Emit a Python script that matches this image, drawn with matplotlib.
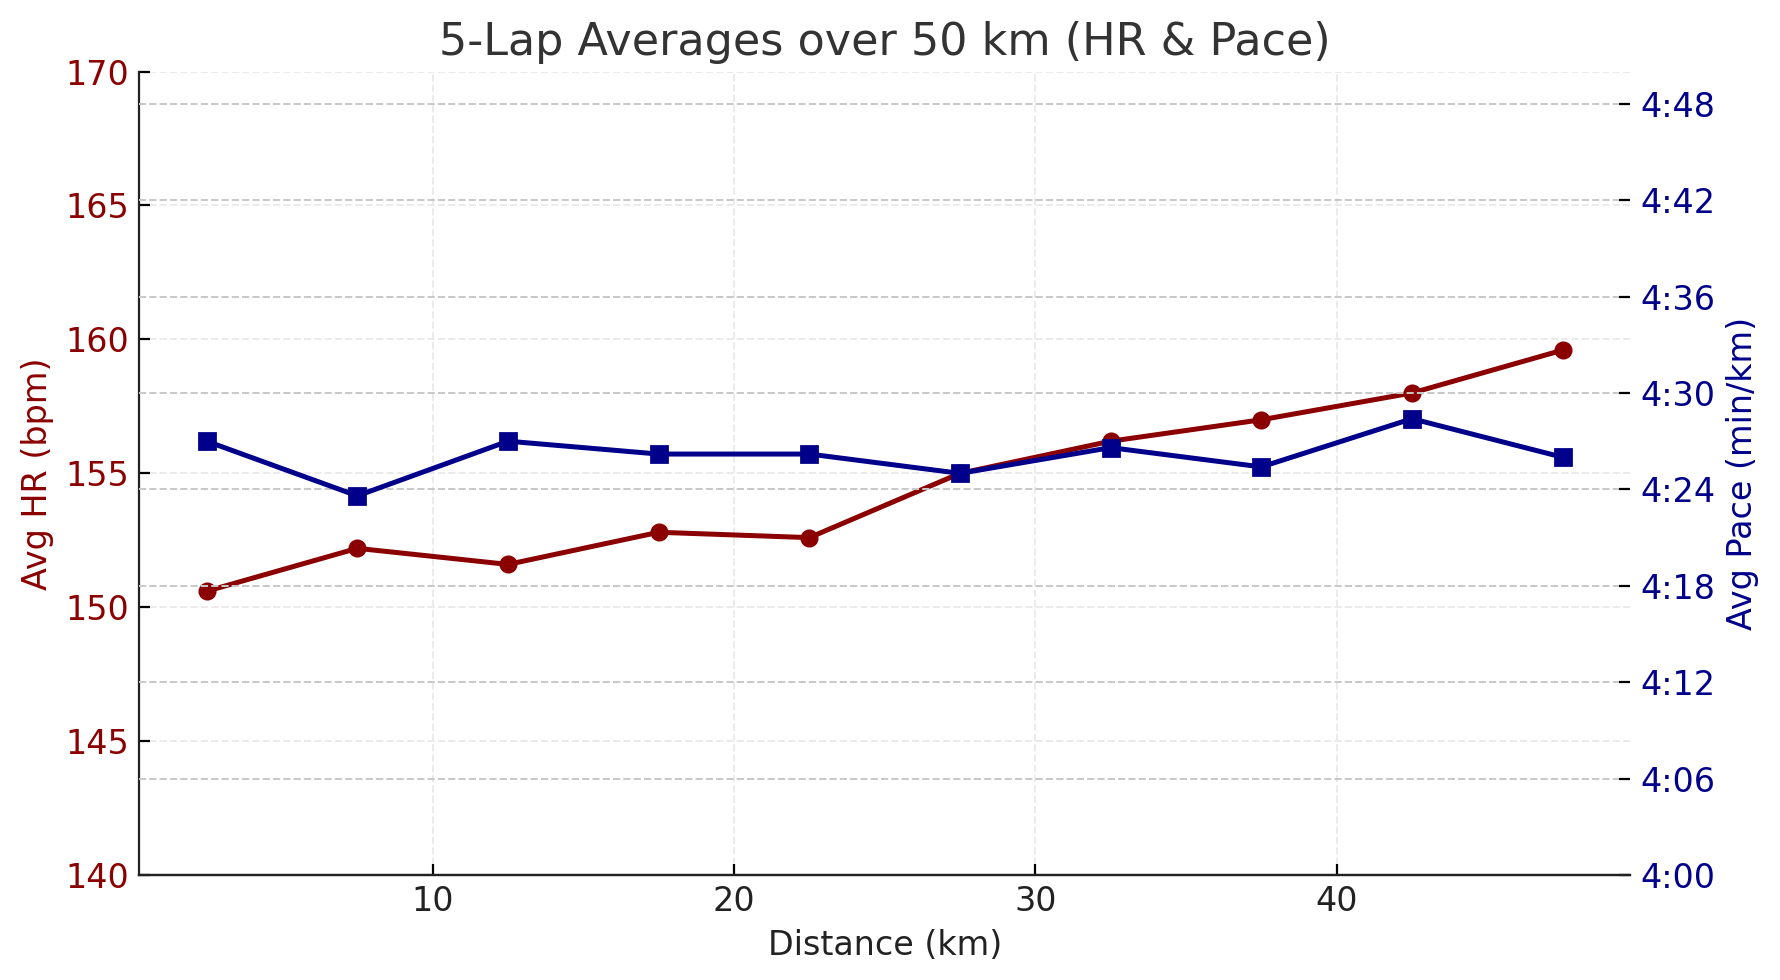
import numpy as np
import matplotlib.pyplot as plt
from matplotlib.ticker import FuncFormatter, MultipleLocator

# 5-lap block midpoints (km)
distance_km = [2.5, 7.5, 12.5, 17.5, 22.5, 27.5, 32.5, 37.5, 42.5, 47.5]
# average heart rate per block (bpm)
avg_hr = [150.6, 152.2, 151.6, 152.8, 152.6, 155.0, 156.2, 157.0, 158.0, 159.6]
# average pace per block (seconds per km)
avg_pace_s = [267.0, 263.6, 267.0, 266.2, 266.2, 265.0, 266.6, 265.4, 268.4, 266.0]

hr_color = '#8B0000'
pace_color = '#00008B'


def fmt_pace(s, pos):
    s = int(round(s))
    return f'{s // 60}:{s % 60:02d}'


fig, ax1 = plt.subplots(figsize=(8.9, 4.9), dpi=200)
fig.subplots_adjust(left=0.078, right=0.916, top=0.927, bottom=0.107)

ax1.plot(distance_km, avg_hr, color=hr_color, marker='o', lw=1.8, ms=5.5)
ax1.set_ylim(140, 170)
ax1.yaxis.set_major_locator(MultipleLocator(5))
ax1.set_xlabel('Distance (km)', fontsize=12, color='#222222')
ax1.set_ylabel('Avg HR (bpm)', fontsize=12, color=hr_color)
ax1.tick_params(axis='y', labelcolor=hr_color, labelsize=12, direction='in', length=4)
ax1.tick_params(axis='x', labelcolor='#222222', labelsize=12, direction='in', length=4)
ax1.grid(True, linestyle='--', color='#ebebeb', lw=0.7)
ax1.set_axisbelow(True)

ax2 = ax1.twinx()
ax2.plot(distance_km, avg_pace_s, color=pace_color, marker='s', lw=1.8, ms=5.5)
ax2.set_ylim(240, 290)
ax2.yaxis.set_major_locator(MultipleLocator(6))
ax2.yaxis.set_major_formatter(FuncFormatter(fmt_pace))
ax2.set_ylabel('Avg Pace (min/km)', fontsize=12, color=pace_color)
ax2.tick_params(axis='y', labelcolor=pace_color, labelsize=12, direction='in', length=4)
ax2.grid(True, axis='y', linestyle='--', color='#c8c8c8', lw=0.7)

for ax in (ax1, ax2):
    ax.spines['top'].set_visible(False)
    ax.spines['right'].set_visible(False)
    ax.spines['bottom'].set_color('#222222')
ax2.spines['left'].set_visible(False)
ax1.spines['left'].set_color('#222222')

ax1.set_title('5-Lap Averages over 50 km (HR & Pace)', fontsize=16, color='#333333')

fig.savefig('out.png')
